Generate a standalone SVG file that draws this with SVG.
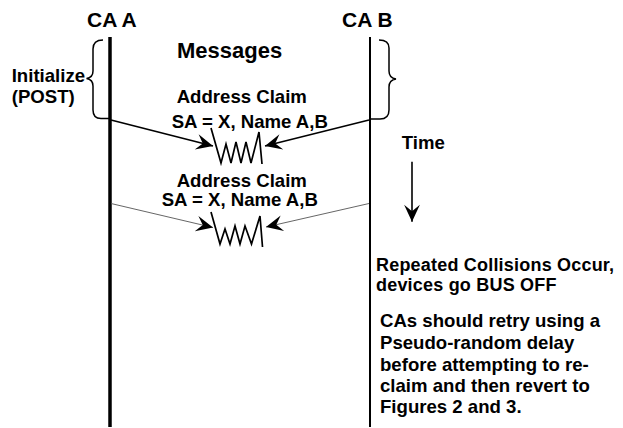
<svg xmlns="http://www.w3.org/2000/svg" width="623" height="428" viewBox="0 0 623 428">
<style>
text{font-family:"Liberation Sans",Arial,Helvetica,sans-serif;font-weight:bold;fill:#000;font-size:18.6px}
text.head{font-size:21px}
text.big{font-size:22px}
text.note{font-size:18px;letter-spacing:0.2px}
.life{stroke:#000;fill:none}
.brace{stroke:#000;stroke-width:1.5;fill:none}
.msg{stroke:#000;stroke-width:1.6;fill:none}
.msg2{stroke:#555;stroke-width:0.9;fill:none}
.zig{stroke:#000;stroke-width:1.7;fill:none;stroke-linejoin:miter}
</style>
<defs>
<marker id="ah" markerUnits="userSpaceOnUse" markerWidth="20" markerHeight="20" viewBox="-17 -9 19 18" refX="0" refY="0" orient="auto">
<path d="M0,0 L-16,-7.5 L-10,0 L-16,7.5 Z" fill="#000"/>
</marker>
</defs>
<rect width="623" height="428" fill="#fff"/>
<g id="caA">
<text class="head" x="87" y="26.5">CA A</text>
<line class="life" x1="110" y1="37" x2="110" y2="427" stroke-width="3.5"/>
</g>
<g id="caB">
<text class="head" x="342" y="26.5">CA B</text>
<line class="life" x1="370" y1="37" x2="370" y2="427" stroke-width="2"/>
</g>
<g id="messages-label"><text class="big" x="177" y="58">Messages</text></g>
<g id="initialize">
<path class="brace" d="M103,40 Q93,40 93,49 L93,71 Q93,77.5 86.5,78.5 Q93,79.5 93,86 L93,110 Q93,118.5 101,118.5 L110,118.5"/>
<text x="11.7" y="81.7">Initialize</text>
<text x="11.7" y="103.3">(POST)</text>
</g>
<g id="braceB">
<path class="brace" d="M379,40 Q389,40 389,48 L389,71 Q389,78 396,79 Q389,80 389,87 L389,110 Q389,119 380,119 L370,119"/>
</g>
<g id="claim1">
<text x="176.7" y="103.3">Address Claim</text>
<text x="171.7" y="128.3">SA = X, Name A,B</text>
<polyline class="zig" points="211,128 221,163 226,144 231,163 236,142 241,163 246,142 251,163 259,132 262,164"/>
</g>
<g id="claim2">
<text x="176.7" y="186.7">Address Claim</text>
<text x="161.7" y="206">SA = X, Name A,B</text>
<polyline class="zig" points="211,212 220,244 225,229 230,244 235,226 240,244 245,226 251.5,244 260,216 262.5,247"/>
</g>
<g id="time">
<text x="401.7" y="149.3">Time</text>
</g>
<g id="notes">
<text class="note" x="376" y="270.5">Repeated Collisions Occur,</text>
<text class="note" x="376" y="290.5">devices go BUS OFF</text>
<text x="380" y="327.3">CAs should retry using a</text>
<text x="380" y="349">Pseudo-random delay</text>
<text x="380" y="370.5">before attempting to re-</text>
<text x="380" y="391.7">claim and then revert to</text>
<text x="380" y="413.3">Figures 2 and 3.</text>
</g>
<g id="connectors">
<line class="msg" x1="111" y1="120" x2="213" y2="146" marker-end="url(#ah)"/>
<line class="msg" x1="369" y1="120" x2="265" y2="146" marker-end="url(#ah)"/>
<line class="msg2" x1="111" y1="203.5" x2="213" y2="227.5" marker-end="url(#ah)"/>
<line class="msg2" x1="369" y1="203.5" x2="266" y2="227" marker-end="url(#ah)"/>
<line class="msg" x1="412" y1="161.7" x2="412" y2="221.7" stroke-width="2" marker-end="url(#ah)"/>
</g>
</svg>
